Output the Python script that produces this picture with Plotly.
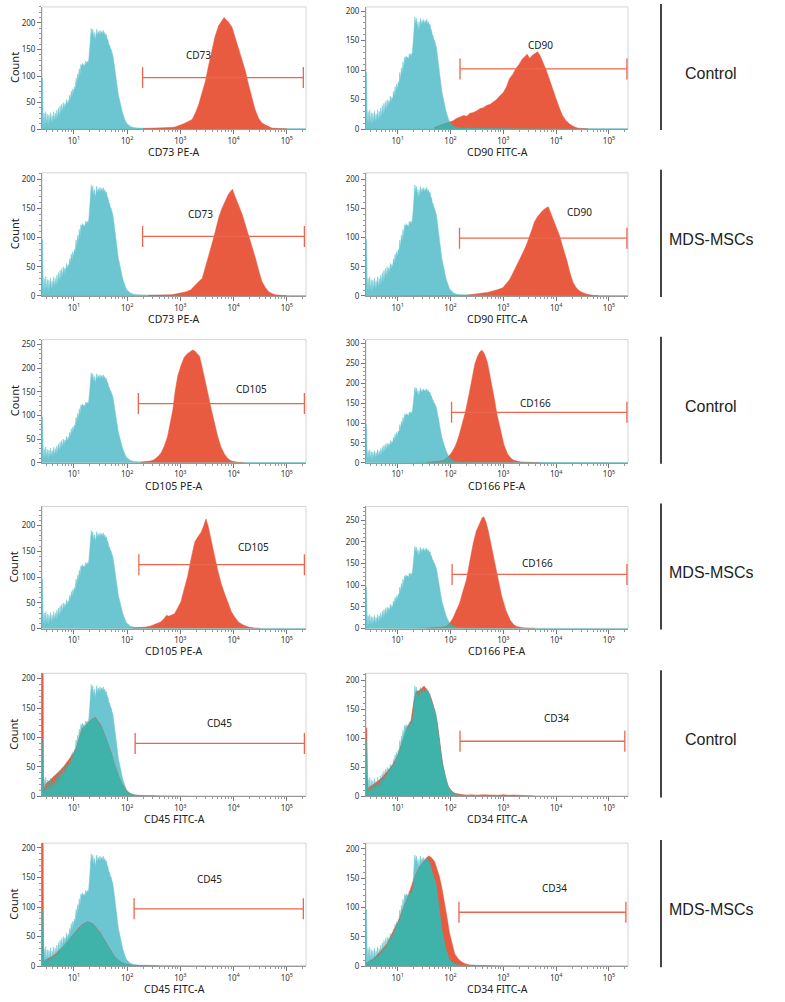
import numpy as np
import plotly.graph_objects as go

# isotype control (same acquisition is overlaid in every panel), log10 intensity / count
ISO_LOG = [0.40, 0.41, 0.425, 0.44, 0.455, 0.47, 0.485, 0.50, 0.515, 0.53, 0.545, 0.56, 0.575, 0.59,
           0.605, 0.62, 0.635, 0.65, 0.665, 0.68, 0.695, 0.71, 0.725, 0.74, 0.755, 0.77, 0.785, 0.80,
           0.815, 0.83, 0.845, 0.86, 0.875, 0.89, 0.905, 0.92, 0.935, 0.95, 0.965, 0.98, 0.995, 1.01,
           1.025, 1.04, 1.055, 1.07, 1.085, 1.10, 1.115, 1.13, 1.145, 1.16, 1.175, 1.19, 1.205, 1.22,
           1.235, 1.25, 1.265, 1.28, 1.295, 1.31, 1.325, 1.34, 1.355, 1.37, 1.385, 1.40, 1.415, 1.43,
           1.445, 1.46, 1.475, 1.49, 1.505, 1.52, 1.535, 1.55, 1.565, 1.58, 1.595, 1.61, 1.625, 1.64,
           1.655, 1.67, 1.685, 1.70, 1.715, 1.73, 1.745, 1.76, 1.775, 1.79, 1.805, 1.82, 1.835, 1.85,
           1.865, 1.88, 1.895, 1.91, 1.925, 1.94, 1.955, 1.97, 1.99, 2.02, 2.06, 2.12, 2.20, 2.40,
           2.70, 3.20, 4.00, 5.36]
ISO_COUNT = [97, 96, 6, 30, 8, 33, 10, 28, 7, 27, 12, 31, 11, 26,
             14, 33, 15, 30, 18, 36, 20, 40, 24, 44, 28, 47, 32, 50,
             38, 48, 42, 56, 46, 54, 50, 64, 56, 72, 62, 76, 68, 80,
             76, 96, 84, 104, 94, 114, 102, 122, 118, 124, 120, 122, 118, 128,
             124, 128, 124, 132, 150, 172, 190, 178, 188, 172, 182, 168, 184, 188,
             176, 184, 178, 186, 178, 184, 180, 186, 178, 182, 176, 178, 170, 168,
             160, 158, 152, 150, 144, 140, 130, 118, 106, 96, 84, 74, 64, 58,
             50, 44, 38, 32, 27, 22, 18, 15, 11, 8, 5, 3, 2, 1.5,
             1, 0.8, 0.5, 0.5]

# stained samples
CD73_CTRL_LOG = [2.30, 2.60, 2.80, 2.90, 3.00, 3.06, 3.14, 3.22, 3.28, 3.34, 3.40, 3.47, 3.53, 3.59,
                 3.65, 3.72, 3.78, 3.82, 3.86, 3.90, 3.97, 4.03, 4.09, 4.15, 4.22, 4.28, 4.34, 4.40,
                 4.47, 4.53, 4.59, 4.66, 4.72, 4.85, 5.00]
CD73_CTRL_COUNT = [1, 1.5, 3, 4, 7, 10, 14, 18, 30, 45, 66, 90, 120, 150,
                   174, 195, 204, 210, 206, 202, 192, 172, 150, 132, 110, 84, 60, 38,
                   20, 12, 8, 4, 2, 1, 0.5]

CD90_CTRL_LOG = [1.70, 1.76, 1.82, 1.88, 1.94, 1.99, 2.05, 2.11, 2.18, 2.25, 2.31, 2.37, 2.43, 2.50,
                 2.56, 2.62, 2.68, 2.75, 2.81, 2.87, 2.94, 3.00, 3.06, 3.12, 3.18, 3.24, 3.30, 3.36,
                 3.40, 3.45, 3.50, 3.56, 3.60, 3.65, 3.70, 3.75, 3.81, 3.87, 3.93, 4.00, 4.06, 4.12,
                 4.18, 4.25, 4.32, 4.40, 4.50, 4.60]
CD90_CTRL_COUNT = [3, 5, 7, 8, 10, 12, 14, 18, 20, 23, 22, 27, 28, 31,
                   35, 36, 40, 42, 46, 50, 57, 62, 72, 86, 93, 103, 110, 119,
                   122, 127, 120, 126, 128, 131, 124, 114, 100, 85, 68, 51, 36, 23,
                   15, 9, 5, 2, 1, 0.5]

CD73_MDS_LOG = [2.40, 2.70, 2.84, 2.95, 3.03, 3.11, 3.19, 3.25, 3.31, 3.36, 3.41, 3.45, 3.50, 3.55,
                3.59, 3.66, 3.72, 3.78, 3.84, 3.90, 3.95, 3.98, 4.02, 4.06, 4.11, 4.16, 4.22, 4.28,
                4.34, 4.41, 4.47, 4.53, 4.60, 4.66, 4.72, 4.78, 4.90, 5.00]
CD73_MDS_COUNT = [1, 1.5, 2, 4, 5, 7, 10, 16, 22, 26, 30, 42, 59, 74,
                  88, 112, 134, 150, 163, 174, 180, 183, 172, 163, 152, 140, 122, 105,
                  85, 65, 44, 25, 14, 7, 4, 2, 1, 0.5]

CD90_MDS_LOG = [2.30, 2.42, 2.50, 2.61, 2.70, 2.80, 2.90, 2.99, 3.05, 3.12, 3.18, 3.25, 3.31, 3.37,
                3.44, 3.50, 3.55, 3.59, 3.65, 3.72, 3.78, 3.85, 3.88, 3.94, 4.00, 4.07, 4.13, 4.20,
                4.26, 4.32, 4.38, 4.45, 4.52, 4.58, 4.70, 4.80]
CD90_MDS_COUNT = [1, 3, 4, 5, 6, 8, 11, 14, 20, 28, 39, 51, 62, 74,
                  88, 102, 116, 127, 136, 144, 149, 153, 146, 130, 116, 102, 82, 62,
                  40, 23, 14, 8, 5, 3, 1, 0.5]

CD105_CTRL_LOG = [2.25, 2.39, 2.45, 2.51, 2.58, 2.64, 2.70, 2.76, 2.81, 2.86, 2.90, 2.95, 3.01, 3.07,
                  3.13, 3.18, 3.23, 3.27, 3.31, 3.36, 3.40, 3.45, 3.51, 3.58, 3.64, 3.70, 3.76, 3.83,
                  3.89, 3.95, 4.05, 4.20]
CD105_CTRL_COUNT = [1, 2, 4, 7, 13, 21, 36, 56, 84, 113, 150, 183, 205, 222,
                    230, 234, 238, 236, 232, 225, 206, 183, 150, 113, 82, 56, 34, 18,
                    9, 4, 1.5, 0.5]

CD166_CTRL_LOG = [1.55, 1.68, 1.78, 1.87, 1.95, 2.03, 2.10, 2.16, 2.22, 2.28, 2.35, 2.41, 2.46, 2.51,
                  2.56, 2.60, 2.65, 2.70, 2.76, 2.82, 2.88, 2.95, 3.01, 3.08, 3.14, 3.20, 3.33, 3.50,
                  3.70]
CD166_CTRL_COUNT = [1, 2, 4, 6, 14, 27, 45, 68, 96, 127, 172, 218, 248, 268,
                    280, 283, 272, 252, 212, 168, 122, 77, 46, 22, 12, 6, 2, 1,
                    0.5]

CD105_MDS_LOG = [2.10, 2.25, 2.35, 2.44, 2.54, 2.63, 2.70, 2.74, 2.78, 2.83, 2.89, 2.95, 3.01, 3.07,
                 3.14, 3.20, 3.27, 3.33, 3.39, 3.44, 3.48, 3.52, 3.58, 3.64, 3.71, 3.77, 3.84, 3.90,
                 3.96, 4.03, 4.09, 4.18, 4.28, 4.40, 4.50]
CD105_MDS_COUNT = [1, 2, 3, 5, 9, 13, 20, 26, 24, 27, 29, 40, 52, 76,
                   103, 135, 168, 178, 187, 200, 213, 200, 174, 142, 110, 86, 65, 47,
                   32, 21, 13, 7, 3, 1, 0.5]

CD166_MDS_LOG = [1.55, 1.73, 1.83, 1.92, 1.98, 2.04, 2.10, 2.17, 2.23, 2.30, 2.36, 2.43, 2.49, 2.55,
                 2.60, 2.63, 2.67, 2.71, 2.77, 2.84, 2.90, 2.97, 3.05, 3.13, 3.19, 3.25, 3.40, 3.60]
CD166_MDS_COUNT = [1, 2, 3, 5, 12, 23, 38, 58, 84, 112, 152, 197, 226, 244,
                   256, 258, 246, 228, 192, 151, 112, 74, 42, 19, 10, 5, 1.5, 0.5]

CD45_CTRL_LOG = [0.40, 0.415, 0.43, 0.46, 0.50, 0.55, 0.60, 0.65, 0.70, 0.75, 0.80, 0.85, 0.90, 0.95,
                 1.00, 1.05, 1.10, 1.15, 1.20, 1.25, 1.30, 1.35, 1.40, 1.45, 1.50, 1.55, 1.60, 1.65,
                 1.70, 1.75, 1.80, 1.85, 1.90, 1.95, 2.00, 2.05, 2.15, 2.30, 2.60]
CD45_CTRL_COUNT = [400, 400, 10, 20, 24, 27, 32, 36, 40, 45, 50, 56, 60, 66,
                   74, 84, 100, 114, 118, 124, 128, 132, 134, 128, 122, 112, 100, 88,
                   74, 58, 44, 32, 22, 14, 8, 5, 2, 1, 0.5]

CD34_CTRL_LOG = [0.40, 0.415, 0.43, 0.46, 0.50, 0.55, 0.60, 0.65, 0.70, 0.75, 0.80, 0.85, 0.90, 0.95,
                 1.00, 1.05, 1.10, 1.15, 1.20, 1.25, 1.30, 1.35, 1.40, 1.45, 1.50, 1.55, 1.60, 1.65,
                 1.70, 1.75, 1.80, 1.85, 1.90, 1.95, 2.00, 2.05, 2.10, 2.20, 2.30, 2.40, 2.50, 2.60,
                 2.70, 2.80, 2.90, 3.00, 3.10, 3.20, 3.30, 3.40, 3.60]
CD34_CTRL_COUNT = [118, 118, 10, 16, 18, 21, 24, 28, 32, 37, 42, 48, 54, 62,
                   70, 84, 98, 112, 122, 130, 160, 180, 182, 186, 190, 184, 176, 164,
                   148, 126, 86, 56, 34, 18, 12, 7, 5, 3, 2, 3, 2, 3,
                   2.5, 3, 2, 3, 2, 2.5, 2, 1, 0.5]

CD45_MDS_LOG = [0.40, 0.415, 0.43, 0.46, 0.50, 0.55, 0.60, 0.65, 0.70, 0.75, 0.80, 0.85, 0.90, 0.95,
                1.00, 1.05, 1.10, 1.15, 1.20, 1.25, 1.30, 1.35, 1.40, 1.45, 1.50, 1.55, 1.60, 1.65,
                1.70, 1.75, 1.80, 1.85, 1.90, 1.95, 2.00, 2.10, 2.30, 2.60]
CD45_MDS_COUNT = [400, 400, 6, 10, 12, 14, 17, 20, 24, 28, 33, 38, 44, 50,
                  55, 60, 66, 70, 73, 75, 74, 72, 67, 62, 56, 48, 40, 32,
                  25, 18, 13, 9, 6, 4, 3, 1.5, 1, 0.5]

CD34_MDS_LOG = [0.40, 0.45, 0.53, 0.60, 0.72, 0.80, 0.90, 1.00, 1.10, 1.20, 1.28, 1.35, 1.42, 1.47,
                1.52, 1.57, 1.60, 1.65, 1.70, 1.75, 1.79, 1.84, 1.89, 1.94, 1.98, 2.03, 2.08, 2.14,
                2.20, 2.28, 2.36, 2.55, 2.80]
CD34_MDS_COUNT = [5, 8, 12, 18, 29, 38, 57, 74, 97, 120, 142, 158, 170, 176,
                  182, 187, 188, 184, 178, 166, 153, 132, 108, 80, 57, 36, 21, 13,
                  8, 4, 2, 0.8, 0.5]

SAMPLE_LOG = [CD73_CTRL_LOG, CD90_CTRL_LOG, CD73_MDS_LOG, CD90_MDS_LOG,
              CD105_CTRL_LOG, CD166_CTRL_LOG, CD105_MDS_LOG, CD166_MDS_LOG,
              CD45_CTRL_LOG, CD34_CTRL_LOG, CD45_MDS_LOG, CD34_MDS_LOG]
SAMPLE_COUNT = [CD73_CTRL_COUNT, CD90_CTRL_COUNT, CD73_MDS_COUNT, CD90_MDS_COUNT,
                CD105_CTRL_COUNT, CD166_CTRL_COUNT, CD105_MDS_COUNT, CD166_MDS_COUNT,
                CD45_CTRL_COUNT, CD34_CTRL_COUNT, CD45_MDS_COUNT, CD34_MDS_COUNT]

AXIS_TITLES = ["CD73 PE-A", "CD90 FITC-A", "CD73 PE-A", "CD90 FITC-A",
               "CD105 PE-A", "CD166 PE-A", "CD105 PE-A", "CD166 PE-A",
               "CD45 FITC-A", "CD34 FITC-A", "CD45 FITC-A", "CD34 FITC-A"]
GATE_NAMES = ["CD73", "CD90", "CD73", "CD90", "CD105", "CD166",
              "CD105", "CD166", "CD45", "CD34", "CD45", "CD34"]
Y_MAX = [230, 207, 211, 211, 260, 310, 237, 282, 209, 212, 208, 210]
GATE_FROM = [2.29, 2.18, 2.29, 2.17, 2.21, 2.02, 2.22, 2.03, 2.15, 2.18, 2.13, 2.16]
GATE_TO = [5.31, 5.34, 5.33, 5.34, 5.33, 5.34, 5.33, 5.34, 5.33, 5.30, 5.31, 5.32]
GATE_LEVEL = [97, 102, 102, 99, 125, 127, 124, 125, 90, 95, 97, 92]
LABEL_LOG = [3.34, 3.71, 3.375, 4.45, 4.33, 3.61, 4.37, 3.64, 3.73, 4.0, 3.55, 3.97]
LABEL_COUNT = [140, 142, 140, 144, 155, 150, 158, 152, 124, 135, 147, 133]
GROUPS = ["Control", "MDS-MSCs", "Control", "MDS-MSCs", "Control", "MDS-MSCs"]

X_TICKS = [10, 100, 1000, 10000, 100000]
X_TICKTEXT = ["10<sup>1</sup>", "10<sup>2</sup>", "10<sup>3</sup>", "10<sup>4</sup>", "10<sup>5</sup>"]

W, H = 785, 1002
COL_X = [(42, 306), (366, 628)]
ROW_Y = [(5, 128), (172, 296), (340, 464), (508, 631), (676, 800), (847, 971)]

ISO_COLOR = "#6cc6d1"
SAMPLE_COLOR = "#e95b40"
OVERLAP_COLOR = "#3fb3a9"
GATE_COLOR = "#e8674e"
FONT = "Noto Sans"

minor_x = [k * 10 ** d for d in range(0, 6) for k in range(2, 10) if 0.40 < np.log10(k * 10 ** d) < 5.36]

fig = go.Figure()
annotations = []
shapes = []

for i in range(12):
    r, c = i // 2, i % 2
    n = i + 1
    xa = "x" if n == 1 else f"x{n}"
    ya = "y" if n == 1 else f"y{n}"
    x0, x1 = COL_X[c]
    top, bot = ROW_Y[r]

    s_log = np.array(SAMPLE_LOG[i])
    s_cnt = np.array(SAMPLE_COUNT[i])

    # overlap of the two histograms (drawn darker teal)
    grid = np.union1d(ISO_LOG, s_log)
    both = np.minimum(np.interp(grid, ISO_LOG, ISO_COUNT, left=0, right=0),
                      np.interp(grid, s_log, s_cnt, left=0, right=0))

    common = dict(xaxis=xa, yaxis=ya, mode="lines", fill="tozeroy", hoverinfo="skip", showlegend=False)
    fig.add_trace(go.Scatter(x=10 ** np.array(ISO_LOG), y=ISO_COUNT, fillcolor=ISO_COLOR,
                             line=dict(color=ISO_COLOR, width=0.5), **common))
    fig.add_trace(go.Scatter(x=10 ** s_log, y=s_cnt, fillcolor=SAMPLE_COLOR,
                             line=dict(color=SAMPLE_COLOR, width=0.5), **common))
    fig.add_trace(go.Scatter(x=10 ** grid, y=both, fillcolor=OVERLAP_COLOR,
                             line=dict(color=OVERLAP_COLOR, width=0.3), **common))

    # gate bar
    fig.add_trace(go.Scatter(
        x=[10 ** GATE_FROM[i], 10 ** GATE_TO[i]], y=[GATE_LEVEL[i], GATE_LEVEL[i]],
        xaxis=xa, yaxis=ya, mode="lines+markers", hoverinfo="skip", showlegend=False,
        line=dict(color=GATE_COLOR, width=1.3),
        marker=dict(symbol="line-ns", size=15, line=dict(color=GATE_COLOR, width=1.3)),
    ))
    annotations.append(dict(xref=xa, yref=ya, x=LABEL_LOG[i], y=LABEL_COUNT[i], text=GATE_NAMES[i],
                            showarrow=False, xanchor="center",
                            font=dict(family=FONT, size=10, color="#222")))

    fig.layout[f"xaxis{n}" if n > 1 else "xaxis"] = dict(
        domain=[x0 / W, x1 / W], anchor=ya, type="log", range=[0.40, 5.36],
        tickmode="array", tickvals=X_TICKS, ticktext=X_TICKTEXT,
        ticks="outside", ticklen=4, tickcolor="#777", tickwidth=1,
        minor=dict(tickmode="array", tickvals=minor_x, ticks="outside", ticklen=2, tickcolor="#999"),
        showline=True, linecolor="#999", linewidth=1, showgrid=False, zeroline=False,
        tickfont=dict(family=FONT, size=8, color="#333"), fixedrange=True,
    )
    fig.layout[f"yaxis{n}" if n > 1 else "yaxis"] = dict(
        domain=[1 - bot / H, 1 - top / H], anchor=xa, range=[0, Y_MAX[i]],
        tick0=0, dtick=50, ticks="outside", ticklen=4, tickcolor="#777", tickwidth=1,
        minor=dict(dtick=10, ticks="outside", ticklen=2, tickcolor="#999"),
        showline=True, linecolor="#999", linewidth=1, showgrid=False, zeroline=False,
        tickfont=dict(family=FONT, size=8, color="#333"), fixedrange=True,
    )

    # light frame on top/right
    shapes.append(dict(type="rect", xref="paper", yref="paper", x0=x0 / W, x1=x1 / W,
                       y0=1 - bot / H, y1=1 - top / H, line=dict(color="#d4d4d4", width=1), layer="below"))

    annotations.append(dict(xref="paper", yref="paper", x=(x0 + x1) / 2 / W, y=1 - (bot + 23) / H,
                            text=AXIS_TITLES[i], showarrow=False, xanchor="center", yanchor="middle",
                            font=dict(family=FONT, size=10.5, color="#222")))
    if c == 0:
        annotations.append(dict(xref="paper", yref="paper", x=14 / W, y=1 - (top + bot) / 2 / H,
                                text="Count", textangle=-90, showarrow=False,
                                xanchor="center", yanchor="middle",
                                font=dict(family=FONT, size=11, color="#222")))

# group labels on the right
for r, name in enumerate(GROUPS):
    top, bot = ROW_Y[r]
    shapes.append(dict(type="line", xref="paper", yref="paper", x0=661 / W, x1=661 / W,
                       y0=1 - (bot + 1) / H, y1=1 - (top - 3) / H, line=dict(color="#444", width=2)))
    annotations.append(dict(xref="paper", yref="paper", x=711 / W, y=1 - ((top + bot) / 2 + 5) / H,
                            text=name, showarrow=False, xanchor="center", yanchor="middle",
                            font=dict(family="Liberation Sans", size=16, color="#222")))

fig.update_layout(
    width=W, height=H, autosize=False,
    margin=dict(l=0, r=0, t=0, b=0),
    paper_bgcolor="white", plot_bgcolor="white",
    annotations=annotations, shapes=shapes,
)

fig.write_html("out.html", config={"displayModeBar": False},
               post_script="document.body.style.margin='0';")
